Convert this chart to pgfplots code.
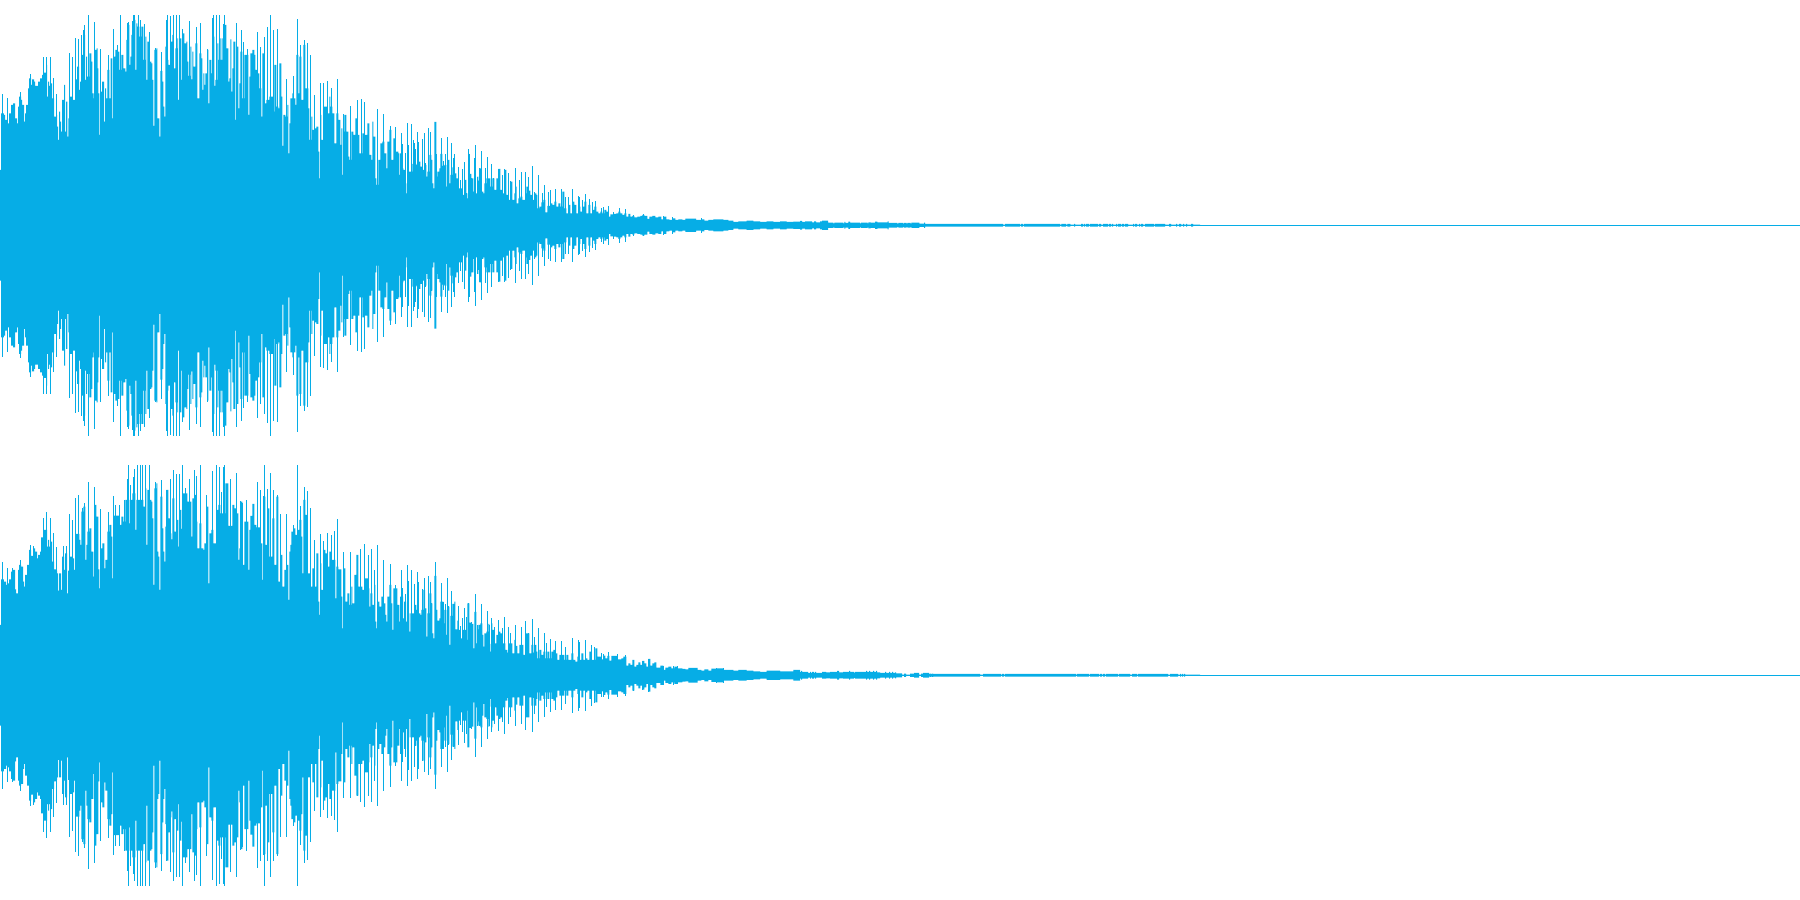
\documentclass[border=0pt]{standalone}
\usepackage{pgfplots}
\usepackage{pgfplotstable}
\pgfplotsset{compat=1.18}
\definecolor{wave}{HTML}{06ADE6}
% Readings: x and y in units of 1/3 pixel (y = screen height of the envelope).
\pgfplotstableread[row sep=crcr]{x y\\
0 510\\3 340\\12 345\\15 360\\21 370\\27 340\\33 315\\39 310\\45 355\\51 370\\54 320\\57 290\\63 300\\66 315\\72 365\\75 340\\78 315\\84 265\\87 235\\93 255\\96 238\\102 245\\105 258\\114 245\\120 235\\126 225\\132 218\\138 195\\141 290\\144 245\\147 258\\153 250\\156 295\\162 350\\168 345\\171 380\\174 420\\177 335\\180 365\\183 395\\186 300\\192 255\\195 395\\198 305\\202 410\\205 355\\210 290\\216 300\\228 238\\231 200\\237 270\\240 245\\243 165\\249 105\\255 240\\258 170\\261 230\\268 160\\274 185\\277 280\\281 295\\284 150\\290 145\\293 205\\295 280\\298 405\\301 275\\306 245\\312 365\\315 265\\318 295\\322 210\\328 295\\332 175\\337 355\\340 170\\346 150\\352 155\\358 210\\364 165\\370 205\\376 215\\379 120\\385 75\\388 195\\391 170\\394 105\\400 60\\406 210\\409 70\\412 80\\418 110\\424 80\\430 180\\436 110\\439 240\\442 125\\448 185\\454 190\\457 240\\460 378\\463 150\\469 145\\472 355\\478 410\\481 213\\487 245\\490 320\\493 350\\496 140\\502 180\\505 195\\511 125\\517 105\\520 205\\526 145\\532 115\\534 300\\537 115\\544 240\\547 100\\553 130\\559 125\\562 185\\565 228\\571 140\\574 238\\577 155\\580 200\\586 130\\592 295\\598 160\\604 175\\607 270\\610 220\\613 255\\616 220\\622 150\\625 310\\628 180\\634 220\\640 110\\643 258\\646 240\\652 130\\655 180\\661 115\\664 180\\667 115\\673 75\\679 145\\685 245\\688 235\\691 118\\694 275\\697 205\\700 125\\706 360\\709 140\\715 325\\718 250\\721 155\\727 295\\733 165\\745 345\\748 230\\751 160\\757 150\\763 165\\766 210\\772 220\\778 265\\784 350\\787 160\\793 310\\799 300\\808 290\\820 335\\823 195\\829 320\\835 325\\838 190\\844 290\\847 438\\850 345\\856 350\\862 315\\865 460\\868 370\\871 295\\877 280\\880 295\\886 315\\889 165\\895 280\\898 170\\904 300\\910 135\\916 265\\925 325\\928 420\\934 350\\937 390\\943 385\\949 380\\955 455\\958 535\\961 345\\964 420\\970 320\\982 340\\988 290\\991 320\\997 340\\1003 430\\1009 340\\1015 360\\1021 435\\1024 385\\1027 525\\1030 395\\1033 345\\1039 395\\1045 470\\1048 480\\1054 395\\1060 405\\1066 355\\1072 405\\1078 460\\1087 400\\1093 405\\1102 370\\1108 465\\1114 480\\1117 365\\1120 410\\1126 535\\1129 555\\1135 480\\1141 430\\1147 425\\1153 460\\1159 505\\1162 425\\1168 390\\1174 480\\1180 415\\1186 455\\1195 460\\1198 525\\1200 525\\
}\bodyAa
\pgfplotstableread[row sep=crcr]{x y\\
7 282\\22 295\\60 277\\90 222\\130 170\\138 170\\152 170\\160 235\\170 282\\208 158\\217 170\\226 113\\235 116\\244 105\\250 90\\253 75\\265 45\\283 66\\301 147\\325 165\\340 87\\352 135\\361 45\\382 70\\385 65\\397 63\\401 45\\403 45\\415 45\\421 60\\433 72\\448 97\\466 145\\484 155\\499 60\\502 45\\511 48\\520 45\\529 45\\538 45\\547 87\\568 63\\589 80\\601 70\\622 147\\637 55\\640 45\\649 45\\658 45\\670 72\\673 45\\709 70\\724 90\\730 127\\742 147\\772 97\\781 140\\793 110\\802 82\\811 45\\820 90\\832 87\\840 192\\859 237\\880 228\\892 57\\901 135\\912 120\\922 130\\931 165\\943 285\\961 250\\970 248\\982 243\\994 265\\1012 237\\1030 342\\1051 318\\1072 300\\1084 297\\1093 305\\1132 327\\1150 342\\1171 378\\1186 380\\
}\spikeAa
\pgfplotstableread[row sep=crcr]{x y\\
0 280\\4 325\\10 330\\16 370\\19 400\\25 335\\37 312\\49 315\\55 305\\61 320\\67 330\\73 315\\79 350\\82 335\\88 285\\94 300\\97 370\\100 385\\103 186\\109 350\\112 335\\118 325\\121 282\\127 318\\133 315\\139 380\\142 300\\148 370\\151 345\\157 322\\163 340\\169 355\\175 385\\187 405\\193 360\\199 400\\202 415\\205 282\\208 342\\214 355\\220 395\\226 400\\232 350\\235 362\\238 325\\244 395\\250 400\\253 370\\259 355\\271 380\\277 355\\283 390\\289 355\\295 327\\301 390\\307 400\\313 330\\319 405\\325 420\\331 365\\337 420\\343 400\\346 380\\350 430\\355 415\\361 410\\367 420\\376 400\\379 380\\385 392\\391 405\\397 420\\403 400\\409 405\\412 445\\418 440\\424 427\\430 420\\436 457\\442 438\\451 430\\457 435\\463 425\\469 440\\475 430\\481 440\\487 395\\493 445\\499 460\\505 435\\511 460\\517 425\\523 435\\529 460\\535 440\\541 455\\547 440\\553 425\\559 460\\565 435\\571 460\\577 450\\583 440\\589 455\\595 460\\601 455\\607 460\\613 450\\619 455\\625 470\\631 463\\640 462\\649 460\\655 455\\661 460\\667 465\\673 460\\679 470\\685 462\\691 470\\697 468\\703 472\\712 470\\721 468\\727 465\\733 468\\742 477\\748 470\\757 468\\766 472\\775 470\\784 478\\790 470\\799 478\\808 480\\817 475\\826 480\\835 478\\847 480\\856 476\\868 476\\888 480\\904 478\\913 482\\925 480\\940 478\\952 478\\970 480\\985 482\\1000 486\\1015 484\\1040 482\\1060 484\\1080 486\\1100 484\\1120 486\\1140 484\\1160 486\\1180 485\\1200 486\\
}\bodyAb
\pgfplotstableread[row sep=crcr]{x y\\
3 220\\6 252\\16 280\\22 190\\25 255\\34 192\\40 240\\43 250\\46 267\\52 217\\55 245\\67 237\\72 220\\76 310\\85 205\\91 217\\94 300\\109 282\\124 235\\130 303\\136 282\\142 232\\145 302\\154 250\\160 295\\163 282\\175 322\\181 360\\187 327\\193 306\\199 400\\205 267\\208 282\\214 355\\223 295\\226 255\\232 350\\238 325\\244 273\\255 323\\262 292\\268 380\\274 312\\280 355\\295 327\\307 345\\313 327\\325 338\\331 362\\346 323\\358 360\\364 336\\376 336\\385 350\\397 318\\403 395\\415 345\\427 400\\433 375\\445 395\\451 390\\466 387\\484 387\\496 410\\505 410\\517 387\\535 407\\538 410\\547 420\\556 402\\568 417\\577 427\\586 422\\604 445\\610 440\\625 437\\640 455\\658 443\\676 447\\700 465\\730 463\\790 468\\817 470\\905 474\\
}\spikeAb
\pgfplotstableread[row sep=crcr]{x y\\
0 13\\6 10\\15 12\\36 9\\42 12\\48 9\\60 12\\66 14\\84 8\\100 6\\103 8\\130 6\\133 10\\136 7\\145 11\\150 8\\180 6\\183 8\\203 6\\205 9\\212 8\\225 11\\232 9\\263 12\\266 7\\292 5\\295 7\\310 5\\312 7\\320 5\\322 7\\332 5\\334 8\\358 5\\372 8\\375 4\\609 2\\615 4\\660 2\\663 4\\669 2\\672 4\\780 2\\784 4\\798 2\\802 4\\811 2\\822 4\\825 2\\843 4\\849 2\\852 4\\855 2\\858 4\\867 2\\870 4\\894 2\\897 4\\903 2\\909 4\\924 2\\927 4\\933 2\\936 4\\939 2\\948 4\\951 2\\954 4\\963 2\\966 4\\972 2\\975 4\\984 2\\999 4\\1002 2\\1005 4\\1011 2\\1017 4\\1020 2\\1023 4\\1029 2\\1035 4\\1062 2\\1065 4\\1095 2\\1107 4\\1113 2\\1128 4\\1131 2\\1137 4\\1143 2\\1149 4\\1152 2\\1158 4\\1161 2\\1173 4\\1179 2\\1200 2\\
}\tailA
\pgfplotstableread[row sep=crcr]{x y\\
0 525\\3 388\\12 395\\18 405\\24 400\\27 388\\33 365\\39 360\\45 418\\48 430\\54 360\\57 345\\63 350\\69 395\\72 410\\75 375\\81 345\\87 300\\93 318\\99 295\\105 305\\111 325\\114 315\\120 305\\123 262\\129 240\\141 290\\144 270\\147 290\\153 275\\156 335\\162 358\\168 362\\171 370\\174 422\\177 370\\183 420\\186 320\\192 360\\195 310\\201 430\\204 362\\210 320\\216 325\\222 360\\226 252\\238 270\\241 285\\244 185\\250 170\\256 330\\259 285\\262 245\\268 235\\274 305\\280 380\\283 165\\289 200\\295 358\\298 415\\301 295\\307 280\\313 355\\316 330\\322 245\\328 225\\334 260\\337 385\\340 197\\358 225\\364 200\\370 215\\376 150\\388 220\\391 150\\397 130\\406 240\\409 150\\430 170\\436 115\\439 285\\442 120\\448 150\\454 155\\457 205\\460 405\\463 115\\469 100\\472 305\\475 320\\478 420\\481 140\\487 235\\490 305\\493 335\\496 230\\499 120\\505 205\\511 250\\514 268\\517 145\\523 245\\529 210\\535 290\\538 180\\544 237\\547 130\\562 155\\574 260\\577 145\\583 135\\589 215\\592 295\\598 220\\604 295\\610 300\\613 280\\619 170\\625 400\\628 250\\634 240\\640 280\\649 180\\655 165\\661 190\\676 100\\685 228\\697 165\\703 175\\709 190\\715 330\\718 295\\721 155\\727 345\\733 215\\745 360\\748 240\\751 198\\757 162\\763 225\\769 232\\781 280\\787 390\\790 140\\796 285\\802 175\\808 320\\817 205\\823 345\\829 140\\835 395\\841 315\\847 410\\853 360\\859 345\\865 450\\868 305\\871 285\\874 245\\880 235\\886 255\\892 240\\898 210\\904 260\\907 370\\910 150\\916 195\\922 370\\931 410\\937 355\\943 410\\949 310\\955 455\\958 495\\961 340\\964 420\\970 300\\976 310\\982 350\\988 305\\994 330\\1006 445\\1009 350\\1015 358\\1024 440\\1027 535\\1030 355\\1036 455\\1042 430\\1048 465\\1054 410\\1057 460\\1063 375\\1069 315\\1075 410\\1087 420\\1093 385\\1105 415\\1108 470\\1111 430\\1117 465\\1123 405\\1126 515\\1129 535\\1132 455\\1138 470\\1144 440\\1150 460\\1156 495\\1159 515\\1162 440\\1168 405\\1174 460\\1177 540\\1180 415\\1192 465\\1198 515\\1200 515\\
}\bodyBa
\pgfplotstableread[row sep=crcr]{x y\\
7 336\\22 355\\37 355\\60 330\\90 285\\100 288\\130 205\\139 187\\151 205\\160 250\\169 292\\190 288\\199 288\\208 192\\217 210\\226 145\\235 135\\247 175\\253 158\\265 96\\283 112\\301 178\\325 187\\340 138\\346 165\\358 165\\373 150\\382 88\\385 45\\391 105\\400 80\\403 58\\412 45\\421 45\\427 45\\436 45\\448 45\\466 97\\484 90\\499 120\\511 87\\520 60\\529 72\\538 72\\547 45\\556 113\\568 87\\583 60\\589 78\\601 45\\619 135\\637 63\\649 45\\658 50\\664 125\\670 50\\673 45\\679 105\\691 87\\709 70\\721 153\\727 160\\739 150\\772 97\\781 120\\790 137\\793 45\\802 118\\811 70\\820 120\\832 135\\840 192\\859 192\\880 225\\892 45\\901 168\\912 112\\922 123\\931 175\\943 270\\961 252\\970 272\\982 248\\994 255\\1003 243\\1012 207\\1030 307\\1051 307\\1072 315\\1081 297\\1093 282\\1105 315\\1114 297\\1123 360\\1132 285\\1150 330\\1171 342\\1186 405\\
}\spikeBa
\pgfplotstableread[row sep=crcr]{x y\\
0 290\\9 355\\12 305\\18 365\\21 340\\28 395\\31 340\\43 315\\49 330\\55 340\\61 345\\64 330\\70 270\\75 325\\79 410\\82 340\\88 280\\94 310\\97 400\\100 415\\103 228\\109 330\\112 362\\118 355\\121 305\\130 370\\133 330\\139 405\\142 320\\148 435\\151 348\\157 312\\163 305\\166 388\\172 362\\175 390\\181 415\\187 390\\199 420\\202 310\\208 368\\214 372\\220 445\\223 336\\229 430\\232 388\\235 375\\241 370\\247 405\\250 440\\253 400\\259 395\\265 372\\268 432\\271 455\\274 370\\277 390\\283 430\\289 405\\295 395\\301 400\\307 430\\316 450\\322 458\\325 430\\337 460\\343 420\\346 438\\352 460\\358 435\\370 465\\376 400\\388 460\\394 435\\400 458\\403 435\\409 455\\412 475\\418 450\\424 465\\430 455\\436 475\\442 455\\448 475\\454 455\\460 450\\466 460\\472 480\\478 465\\493 480\\499 465\\505 480\\514 460\\520 480\\526 485\\532 470\\538 480\\544 460\\550 480\\556 475\\562 480\\568 455\\574 480\\586 445\\592 470\\604 478\\610 467\\616 475\\622 468\\628 482\\634 468\\652 478\\664 475\\670 470\\679 497\\685 490\\691 495\\697 480\\703 500\\709 495\\715 487\\721 495\\727 483\\733 490\\739 500\\745 477\\751 497\\757 490\\763 487\\769 503\\781 497\\790 510\\796 503\\805 500\\814 505\\823 500\\832 505\\847 507\\856 508\\865 504\\893 510\\904 512\\913 508\\925 512\\934 506\\950 505\\970 510\\1000 512\\1015 510\\1040 512\\1060 514\\1080 516\\1100 512\\1140 514\\1180 510\\1200 512\\
}\bodyBb
\pgfplotstableread[row sep=crcr]{x y\\
3 210\\6 265\\16 282\\22 195\\25 243\\34 210\\43 252\\46 315\\52 215\\55 245\\67 268\\72 235\\85 228\\91 245\\94 310\\106 186\\124 250\\130 305\\136 312\\142 235\\145 318\\154 273\\160 312\\175 318\\181 378\\187 355\\193 323\\199 350\\205 310\\214 366\\226 282\\232 375\\238 375\\244 312\\262 334\\268 375\\274 355\\283 380\\295 360\\307 385\\313 350\\325 380\\331 400\\346 375\\364 380\\376 363\\385 400\\397 357\\403 410\\415 385\\433 400\\439 430\\451 417\\466 423\\484 423\\496 440\\517 413\\535 420\\538 427\\556 420\\574 435\\583 442\\604 460\\610 462\\625 455\\652 462\\676 464\\700 480\\727 482\\745 477\\790 498\\820 498\\832 499\\950 504\\970 503\\
}\spikeBb
\pgfplotstableread[row sep=crcr]{x y\\
0 10\\3 13\\6 10\\24 7\\30 10\\33 7\\36 10\\42 7\\45 10\\48 7\\66 10\\78 9\\90 10\\111 13\\117 9\\129 10\\147 13\\150 10\\162 8\\165 10\\198 13\\201 10\\207 13\\210 10\\219 13\\222 10\\228 13\\231 9\\240 7\\255 10\\258 7\\267 10\\270 7\\276 10\\279 7\\285 9\\288 6\\306 2\\312 5\\318 2\\330 5\\342 7\\357 2\\363 5\\369 7\\387 4\\390 5\\393 4\\396 5\\399 4\\540 2\\549 4\\603 2\\606 4\\612 2\\615 4\\828 2\\831 4\\867 2\\870 4\\897 2\\900 4\\906 2\\909 4\\915 2\\918 4\\954 2\\957 4\\990 2\\996 4\\1011 2\\1014 4\\1104 2\\1110 4\\1134 2\\1140 4\\1143 2\\1146 4\\1149 2\\1152 4\\1155 2\\1200 2\\
}\tailB
% #1 table, #2 x offset, #3 centre reading
\newcommand\bodyplot[3]{%
  \addplot[const plot,fill=wave,draw=none] table[x expr=\thisrow{x}+#2,y expr=#3-\thisrow{y}]{#1}\closedcycle;
  \addplot[const plot,fill=wave,draw=none] table[x expr=\thisrow{x}+#2,y expr=\thisrow{y}-#3]{#1}\closedcycle;}
\newcommand\spikeplot[3]{%
  \addplot[ycomb,draw=wave,line width=0.5pt,mark=none] table[x expr=\thisrow{x}+#2,y expr=#3-\thisrow{y}]{#1};
  \addplot[ycomb,draw=wave,line width=0.5pt,mark=none] table[x expr=\thisrow{x}+#2,y expr=\thisrow{y}-#3]{#1};}
\pgfplotsset{wavestyle/.style={hide axis,scale only axis,width=900pt,height=225pt,
  xmin=0,xmax=5400,ymin=-674,ymax=676,clip=true,axis on top=false}}
\begin{document}
\begin{tikzpicture}[x=1pt,y=1pt]
\useasboundingbox (0,-225) rectangle (900,225);
\begin{axis}[wavestyle,anchor=south west,at={(0pt,0pt)}]
  \bodyplot{\bodyAa}{0}{676}
  \spikeplot{\spikeAa}{0}{676}
  \bodyplot{\bodyAb}{1200}{496}
  \spikeplot{\spikeAb}{1200}{496}
  \bodyplot{\tailA}{2400}{0}
  \addplot[draw=wave,line width=0.5pt] coordinates {(0,0) (5400,0)};
\end{axis}
\begin{axis}[wavestyle,anchor=south west,at={(0pt,-225pt)}]
  \bodyplot{\bodyBa}{0}{676}
  \spikeplot{\spikeBa}{0}{676}
  \bodyplot{\bodyBb}{1200}{526}
  \spikeplot{\spikeBb}{1200}{526}
  \bodyplot{\tailB}{2400}{0}
  \addplot[draw=wave,line width=0.5pt] coordinates {(0,0) (5400,0)};
\end{axis}
\end{tikzpicture}
\end{document}
